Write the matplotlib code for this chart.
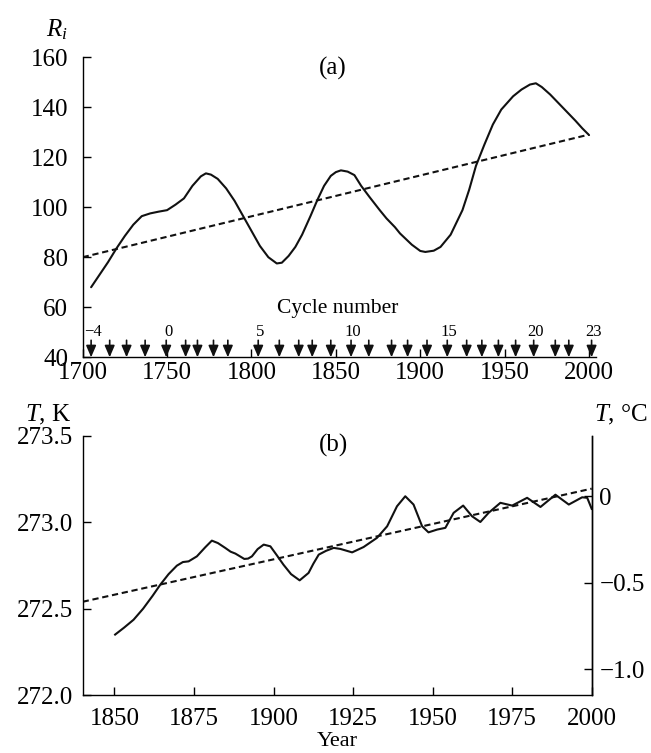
import matplotlib
matplotlib.use("Agg")
import matplotlib.pyplot as plt
from matplotlib.ticker import FixedLocator, FixedFormatter

plt.rcParams['font.family'] = ['Liberation Serif', 'DejaVu Serif']
plt.rcParams['mathtext.fontset'] = 'custom'
plt.rcParams['mathtext.rm'] = 'Liberation Serif'
plt.rcParams['mathtext.it'] = 'Liberation Serif:italic'
plt.rcParams['axes.unicode_minus'] = True

# ---------------- data: panel (a) ----------------
a_years = [1705, 1710, 1715, 1720, 1725, 1730, 1735, 1740, 1745, 1750, 1755, 1760,
           1765, 1770, 1773, 1776, 1780, 1785, 1790, 1795, 1800, 1805, 1810, 1815,
           1818, 1822, 1826, 1830, 1835, 1839, 1843, 1847, 1850, 1853, 1857, 1861,
           1865, 1870, 1876, 1880, 1885, 1888, 1895, 1900, 1903, 1908, 1912, 1918,
           1925, 1929, 1933, 1938, 1943, 1948, 1955, 1960, 1965, 1968.5, 1972,
           1977, 1982, 1987, 1992, 1996, 2000]
a_ri = [68, 73, 78, 83.5, 88.5, 93, 96.4, 97.5, 98.2, 98.8, 101, 103.5,
        108.5, 112.3, 113.5, 113, 111.3, 107.5, 102.5, 96.5, 90.5, 84.5, 80, 77.5,
        77.8, 80.5, 84.1, 89, 96.5, 102.8, 108.5, 112.5, 114, 114.7, 114.2, 112.8,
        108.5, 104, 98.8, 95.5, 92, 89.5, 85, 82.5, 82.1, 82.6, 84.1, 89,
        98.8, 107, 116.5, 125, 133, 139, 144.3, 147, 149, 149.5, 148,
        145, 141.5, 138, 134.5, 131.5, 128.8]
a_trend_years = [1700, 2000]
a_trend = [80, 129]

cycle_years = [1705, 1716, 1726, 1737, 1749.5, 1761, 1768, 1777.5, 1786, 1804,
               1816.5, 1828, 1836, 1847, 1859, 1869.5, 1883, 1892.5, 1904, 1916,
               1927.5, 1936.5, 1946.3, 1956.5, 1967.2, 1980, 1988, 2001.5]
cycle_numbers = list(range(-4, 24))
labeled_cycles = [-4, 0, 5, 10, 15, 20, 23]

a_xticks = [1700, 1750, 1800, 1850, 1900, 1950, 2000]
a_yticks = [40, 60, 80, 100, 120, 140, 160]

# ---------------- data: panel (b) ----------------
b_years = [1850.2, 1853, 1856, 1859, 1862, 1864.4, 1867, 1869.6, 1871.5, 1873.3,
           1875.9, 1878.5, 1880.6, 1882.5, 1884.8, 1886.5, 1888, 1890.8, 1892,
           1893.2, 1895, 1896.9, 1899, 1901, 1903.1, 1905.5, 1908.2, 1911, 1912.5,
           1914.2, 1916.5, 1918.9, 1921, 1924.7, 1928.3, 1932.5, 1935.7, 1938.8,
           1941.4, 1944, 1946.7, 1948.7, 1951.4, 1954, 1956.6, 1959.6, 1962.4,
           1965, 1967.6, 1971.3, 1975, 1979.7, 1983.9, 1988.6, 1992.8, 1997,
           1998.6, 2000]
b_temp = [272.35, 272.39, 272.436, 272.50, 272.575, 272.639, 272.70, 272.749,
          272.77, 272.774, 272.803, 272.855, 272.894, 272.88, 272.852, 272.83,
          272.819, 272.788, 272.79, 272.803, 272.845, 272.871, 272.861, 272.81,
          272.755, 272.70, 272.664, 272.707, 272.76, 272.813, 272.835, 272.852,
          272.846, 272.826, 272.857, 272.910, 272.977, 273.093, 273.151, 273.103,
          272.977, 272.942, 272.958, 272.968, 273.055, 273.097, 273.035, 273.002,
          273.055, 273.113, 273.097, 273.142, 273.089, 273.160, 273.103, 273.145,
          273.142, 273.078]
b_trend_years = [1840, 2000]
b_trend = [272.54, 273.195]

b_xticks = [1850, 1875, 1900, 1925, 1950, 1975, 2000]
b_yticks = [272.0, 272.5, 273.0, 273.5]
b_ytick_labels = ['272.0', '272.5', '273.0', '273.5']
c_yticks = [0, -0.5, -1.0]
c_ytick_labels = ['0', '\u22120.5', '\u22121.0']
KELVIN_OFFSET = 273.15

# ---------------- figure ----------------
fig = plt.figure(figsize=(6.51, 7.53), dpi=100)
FS = 18
dash = (0, (3, 1.8))

# Panel (a)
ax1 = fig.add_axes([0.1270, 0.5255, 0.7882, 0.3988])
ax1.plot(a_years, a_ri, color='#111111', lw=1.5, solid_capstyle='round')
ax1.plot(a_trend_years, a_trend, color='#111111', lw=1.5, linestyle=dash)
ax1.set_xlim(1700, 2004)
ax1.set_ylim(40, 160)
ax1.xaxis.set_major_locator(FixedLocator(a_xticks))
ax1.yaxis.set_major_locator(FixedLocator(a_yticks))
for s in ['top', 'right']:
    ax1.spines[s].set_visible(False)
for s in ['left', 'bottom']:
    ax1.spines[s].set_linewidth(1.0)
ax1.tick_params(axis='both', direction='in', length=6, width=1.0, labelsize=FS)
ax1.tick_params(axis='y', pad=10.5)
ax1.tick_params(axis='x', pad=3.5)

for yr, cn in zip(cycle_years, cycle_numbers):
    ax1.annotate('', xy=(yr, 40), xytext=(yr, 46.8),
                 arrowprops=dict(arrowstyle='-|>,head_length=0.7,head_width=0.3',
                                 mutation_scale=10, lw=1.2, color='#111111',
                                 shrinkA=0, shrinkB=0))
    if cn in labeled_cycles:
        lab = ('\u2212' + str(-cn)) if cn < 0 else str(cn)
        ax1.text(yr + 1.2, 50.0, lab, ha='center', va='center', fontsize=12)

ax1.text(0.4966, 0.164, 'Cycle number', transform=ax1.transAxes,
         ha='center', va='center', fontsize=15.5)
ax1.text(0.488, 0.963, '(a)', transform=ax1.transAxes, ha='center', va='center',
         fontsize=FS)
ax1.text(-0.050, 1.090, '$R_i$', transform=ax1.transAxes, ha='center', va='center',
         fontsize=FS)

# Panel (b)
ax2 = fig.add_axes([0.1270, 0.0770, 0.7819, 0.3440])
ax2.plot(b_years, b_temp, color='#111111', lw=1.5)
ax2.plot(b_trend_years, b_trend, color='#111111', lw=1.5, linestyle=dash)
ax2.set_xlim(1840, 2000)
ax2.set_ylim(272.0, 273.5)
ax2.xaxis.set_major_locator(FixedLocator(b_xticks))
ax2.yaxis.set_major_locator(FixedLocator(b_yticks))
ax2.yaxis.set_major_formatter(FixedFormatter(b_ytick_labels))
ax2.spines['top'].set_visible(False)
for s in ['left', 'bottom', 'right']:
    ax2.spines[s].set_linewidth(1.0)
ax2.tick_params(axis='both', direction='in', length=6, width=1.0, labelsize=FS)
ax2.tick_params(axis='y', pad=7)
ax2.tick_params(axis='x', pad=9)
ax2.set_xlabel('Year', fontsize=16, labelpad=0)
ax2.xaxis.set_label_coords(0.5006, -0.143)

ax3 = ax2.twinx()
ax3.set_ylim(272.0 - KELVIN_OFFSET, 273.5 - KELVIN_OFFSET)
ax3.yaxis.set_major_locator(FixedLocator(c_yticks))
ax3.yaxis.set_major_formatter(FixedFormatter(c_ytick_labels))
ax3.spines['top'].set_visible(False)
ax3.spines['left'].set_visible(False)
ax3.spines['bottom'].set_visible(False)
ax3.spines['right'].set_linewidth(1.0)
ax3.tick_params(axis='y', direction='in', length=6, width=1.0, labelsize=FS, pad=5.5)

ax2.text(0.492, 0.965, '(b)', transform=ax2.transAxes, ha='center', va='center',
         fontsize=FS)
ax2.text(-0.068, 1.081, '$T$, K', transform=ax2.transAxes, ha='center', va='center',
         fontsize=FS)
ax2.text(1.058, 1.081, '$T$, \u00b0C', transform=ax2.transAxes, ha='center',
         va='center', fontsize=FS)

fig.savefig('out.png', dpi=100)
